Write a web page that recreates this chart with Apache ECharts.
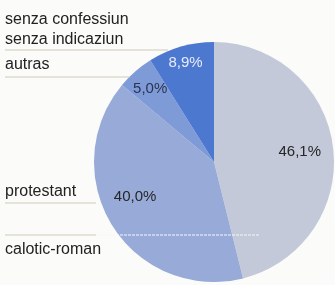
<!DOCTYPE html>
<html lang="rm">
<head>
	<meta charset="UTF-8">
	<title>Confessiuns</title>
	<style>
		html, body { margin: 0; padding: 0; background: #fbfbf9; }
	</style>
</head>
<body>
	<div id="container" style="width: 335px;height:285px;"></div>

	<script src="https://cdn.jsdelivr.net/npm/echarts@6/dist/echarts.min.js"></script>
	<script>
        // slices, clockwise from 12 o'clock
        var categories = ['calotic-roman', 'protestant', 'autras', 'senza confessiun\nsenza indicaziun'];
        var values = [46.1, 40.0, 5.0, 8.9];
        var colors = ['#c3c9d8', '#98abd8', '#7e9bd8', '#4d78d0'];
        var labelColors = ['#262626', '#262626', '#2b3450', '#e6ecf8'];
        var labelRadius = [0.72, 0.72, 0.81, 0.86];
        var labelTurn = [0, 8, 0, 0]; // degrees

        // left-hand name labels: text centre y, rule y, rule end x
        var nameY = [250, 192, 65, 30];
        var ruleY = [235, 203, 77, 50];
        var ruleEnd = [96, 96, 130, 168];

        var cx = 214, cy = 162, r = 120;

        var data = values.map(function (v, i) {
            return {
                name: categories[i],
                value: v,
                itemStyle: { color: colors[i] },
                label: { color: labelColors[i] }
            };
        });

        var total = values.reduce(function (a, b) { return a + b; }, 0);
        var midAngles = [];
        var acc = 0;
        for (var i = 0; i < values.length; i++) {
            midAngles.push((acc + values[i] / 2) / total * Math.PI * 2 + labelTurn[i] * Math.PI / 180);
            acc += values[i];
        }

        var graphic = [];
        for (var i = 0; i < categories.length; i++) {
            graphic.push({
                type: 'text',
                left: 5,
                top: nameY[i] - (categories[i].indexOf('\n') >= 0 ? 20 : 10),
                style: {
                    text: categories[i],
                    fill: '#222',
                    font: '16px "Liberation Sans", Arial, sans-serif',
                    lineHeight: 20
                },
                z: 10
            });
            graphic.push({
                type: 'line',
                shape: { x1: 5, y1: ruleY[i], x2: ruleEnd[i], y2: ruleY[i] },
                style: { stroke: '#cfcbb8', lineWidth: 1 },
                z: 10
            });
        }
        // white dashed rule across the calotic-roman slice
        graphic.push({
            type: 'line',
            shape: { x1: 96, y1: ruleY[0], x2: 260, y2: ruleY[0] },
            style: { stroke: '#f4f6fb', lineWidth: 1, lineDash: [3, 1] },
            z: 10
        });

        var option = {
            backgroundColor: '#fbfbf9',
            animation: false,
            graphic: graphic,
            series: [{
                type: 'pie',
                center: [cx, cy],
                radius: [0, r],
                startAngle: 90,
                clockwise: true,
                data: data,
                itemStyle: { borderWidth: 0 },
                emphasis: { disabled: true },
                label: {
                    position: 'inside',
                    fontSize: 15,
                    fontFamily: '"Liberation Sans", Arial, sans-serif',
                    formatter: function (p) {
                        return p.value.toFixed(1).replace('.', ',') + '%';
                    }
                },
                labelLayout: function (params) {
                    var i = params.dataIndex;
                    var a = midAngles[i];
                    var d = labelRadius[i] * r;
                    return {
                        x: cx + Math.sin(a) * d,
                        y: cy - Math.cos(a) * d,
                        align: 'center',
                        verticalAlign: 'middle'
                    };
                },
                labelLine: { show: false }
            }]
        };
        var myChart = echarts.init(document.getElementById('container'));
        myChart.setOption(option);
    </script>
</body>
</html>
